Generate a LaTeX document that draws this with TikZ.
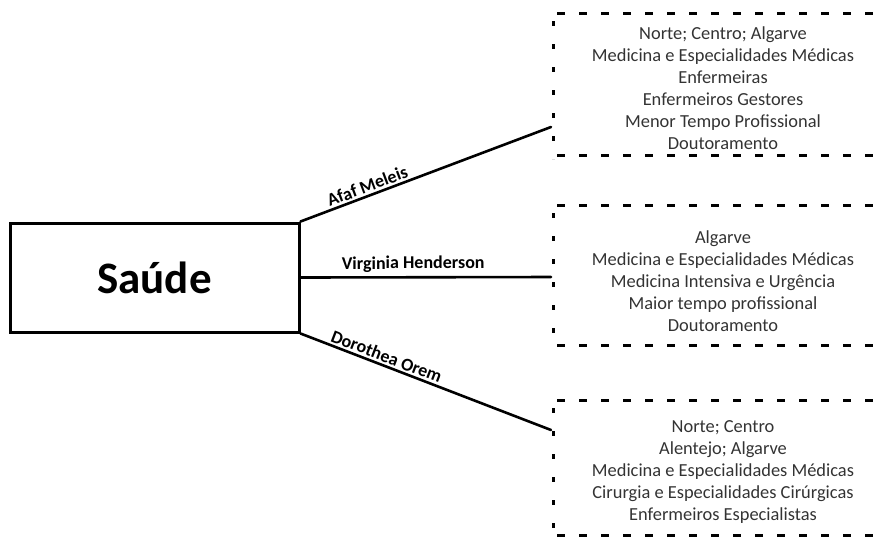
\documentclass[tikz,border=0pt]{standalone}
\usepackage{fontspec}
\setmainfont{Carlito}
\begin{document}
\begin{tikzpicture}[x=1pt,y=-1pt,
  mainbox/.style={draw=black,line width=3pt,minimum width=289pt,minimum height=109pt,inner sep=0pt,
    font=\fontsize{45}{50}\selectfont\bfseries},
  branch/.style={line width=2.6pt,line cap=round},
  branchlabel/.style={font=\fontsize{18}{20}\selectfont\bfseries,sloped,above,inner sep=2pt},
  hdash/.style={line width=3pt,dash pattern=on 8pt off 14pt},
  vdash/.style={line width=3pt,dash pattern=on 5pt off 18pt},
  listtext/.style={align=center,text=black!80,font=\fontsize{18.4}{22}\selectfont,inner sep=0pt}]
  \useasboundingbox (0,0) rectangle (882,542);

  % central concept
  \node[mainbox] (saude) at (154.5,277.5) {Saúde};

  % attachment points on the dashed panels
  \coordinate (pA) at (551,127);
  \coordinate (pB) at (551,277);
  \coordinate (pC) at (551,430);

  % branches with theorist names
  \draw[branch] (saude.north east) -- node[branchlabel,pos=0.28] {Afaf Meleis} (pA);
  \draw[branch] (saude.east) -- node[branchlabel,pos=0.45,inner sep=4pt] {Virginia Henderson} (pB);
  \draw[branch] (saude.south east) -- node[branchlabel,pos=0.33] {Dorothea Orem} (pC);

  % dashed panels (open to the right)
  \foreach \t/\b in {13/155, 205/345, 400/535}{
    \draw[hdash] (557,\t) -- (890,\t);
    \draw[hdash] (557,\b) -- (890,\b);
    \draw[vdash] (553,\t+8) -- (553,\b+4);
  }

  \node[listtext] (tA) at (723,88) {Norte; Centro; Algarve\\Medicina e Especialidades Médicas\\Enfermeiras\\Enfermeiros Gestores\\Menor Tempo Profissional\\Doutoramento};
  \node[listtext] (tB) at (723,281) {Algarve\\Medicina e Especialidades Médicas\\Medicina Intensiva e Urgência\\Maior tempo profissional\\Doutoramento};
  \node[listtext] (tC) at (723,472) {Norte; Centro\\Alentejo; Algarve\\Medicina e Especialidades Médicas\\Cirurgia e Especialidades Cirúrgicas\\Enfermeiros Especialistas};
\end{tikzpicture}
\end{document}
